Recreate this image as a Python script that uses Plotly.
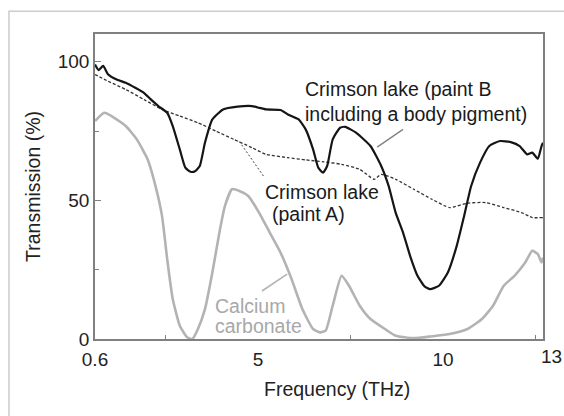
import plotly.graph_objects as go

# Crimson lake (paint B including a body pigment)
freq_B = [0.6, 0.7, 0.82, 0.95, 1.2, 1.43, 1.7, 1.92, 2.1, 2.31, 2.55, 2.7, 2.89, 3.04, 3.18, 3.3,
          3.43, 3.57, 3.77, 4.06, 4.45, 4.84, 5.0, 5.22, 5.61, 5.81, 6.1, 6.29, 6.49, 6.63, 6.76,
          6.87, 7.02, 7.22, 7.36, 7.65, 8.04, 8.33, 8.53, 8.72, 8.92, 9.11, 9.31, 9.5, 9.65, 9.89,
          10.13, 10.37, 10.57, 10.76, 11.0, 11.25, 11.54, 11.83, 12.07, 12.27, 12.41, 12.56, 12.66, 12.7]
trans_B = [99, 97, 98.5, 95.5, 93.5, 92.4, 90.5, 88.8, 86.5, 84, 81.6, 76.8, 68.4, 61.8, 60.3, 60.5,
           62.4, 70.8, 79.2, 82.8, 83.8, 84, 83.5, 82.8, 82.6, 81, 79.2, 75.6, 68.4, 61.8, 60,
           62.4, 72, 76.2, 76.5, 74.4, 69.6, 62.4, 55.2, 45.6, 38.4, 30, 22.8, 19, 18, 19.2,
           24, 33.6, 44.4, 55.2, 63.6, 69.6, 71.4, 71, 69.6, 66.6, 67.2, 65, 69.6, 70.8]

# Crimson lake (paint A)
freq_A = [0.6, 0.95, 1.43, 1.92, 2.41, 2.89, 3.38, 3.86, 4.35, 4.84, 5.22, 5.81, 6.29, 6.78, 7.26,
          7.75, 8.14, 8.33, 8.72, 9.21, 9.7, 10.18, 10.66, 11.15, 11.64, 12.12, 12.41, 12.7]
trans_A = [95.4, 93, 90, 86.4, 82.8, 80.4, 78, 75, 72, 69, 66.6, 65.4, 64.6, 63.9, 63,
           61.2, 57.6, 59.4, 57.6, 54, 50.4, 47.4, 49, 49.2, 47.4, 45.6, 43.8, 43.8]

# Calcium carbonate
freq_C = [0.6, 0.85, 1.05, 1.43, 1.73, 2.02, 2.21, 2.41, 2.55, 2.7, 2.89, 3.09, 3.23, 3.38, 3.57,
          3.77, 3.96, 4.11, 4.3, 4.5, 4.74, 5.03, 5.32, 5.61, 5.91, 6.2, 6.49, 6.68, 6.83, 7.02,
          7.26, 7.46, 7.75, 8.04, 8.43, 8.72, 9.21, 9.7, 10.18, 10.66, 11.05, 11.35, 11.64, 11.93,
          12.22, 12.41, 12.56, 12.66, 12.7]
trans_C = [78.6, 81.6, 80.4, 76.8, 72, 64.8, 56.4, 44.4, 28.8, 14.4, 4.8, 0.6, 0, 3.6, 10.8,
           24, 38.4, 48, 54, 53.4, 51.6, 45.6, 38.4, 31.2, 21.6, 10.8, 3.6, 2.4, 3, 12,
           22.8, 19.2, 12, 7.2, 3.6, 1.2, 0.3, 1, 1.8, 3.6, 7.2, 12, 19.2, 22.8,
           27.6, 31.8, 30.6, 27.6, 29.4]

x_ticks = [0.6, 5, 10]
x_minor = [2.5, 7.5, 12.5]
y_ticks = [0, 50, 100]
y_minor = [25, 75]

FONT = "Liberation Sans, Arial, Helvetica, sans-serif"
fig = go.Figure()
fig.add_trace(go.Scatter(x=freq_C, y=trans_C, mode="lines",
                         line=dict(color="#b3b3b3", width=2.6, shape="spline", smoothing=0.5)))
fig.add_trace(go.Scatter(x=freq_A, y=trans_A, mode="lines",
                         line=dict(color="#333333", width=1.3, dash="3px,2px", shape="spline", smoothing=0.5)))
fig.add_trace(go.Scatter(x=freq_B, y=trans_B, mode="lines",
                         line=dict(color="#151515", width=2.2, shape="spline", smoothing=0.5)))

# leader lines
fig.add_shape(type="line", x0=8.22, y0=69.2, x1=8.92, y1=75.6, line=dict(color="#808080", width=1.3))
fig.add_shape(type="line", x0=4.5, y0=71.2, x1=5.18, y1=58.2, line=dict(color="#444444", width=1, dash="2px,2px"))
fig.add_shape(type="line", x0=5.11, y0=17.3, x1=5.79, y1=23.4, line=dict(color="#b3b3b3", width=1.6))

# outer frame
fig.add_shape(type="rect", xref="paper", yref="paper", x0=-0.192, y0=-1, x1=2, y1=1.075,
              line=dict(color="#cccccc", width=1.5), layer="below")

ann_font = dict(family=FONT, size=19.5, color="#1a1a1a")
fig.add_annotation(x=6.22, y=85.6, text="Crimson lake (paint B<br>including a body pigment)",
                   xanchor="left", yanchor="middle", align="left", showarrow=False, font=ann_font)
fig.add_annotation(x=5.14, y=53, text="Crimson lake", xanchor="left", yanchor="middle",
                   showarrow=False, font=ann_font)
fig.add_annotation(x=5.33, y=45, text="(paint A)", xanchor="left", yanchor="middle",
                   showarrow=False, font=ann_font)
gray_font = dict(family=FONT, size=19.5, color="#a8a8a8")
fig.add_annotation(x=3.79, y=11.9, text="Calcium", xanchor="left", yanchor="middle",
                   showarrow=False, font=gray_font)
fig.add_annotation(x=3.79, y=4.7, text="carbonate", xanchor="left", yanchor="middle",
                   showarrow=False, font=gray_font)
# last x tick label, just beyond the axis end
fig.add_annotation(xref="paper", yref="paper", x=1.020, y=-0.0573, text="13",
                   xanchor="center", yanchor="middle", showarrow=False,
                   font=dict(family=FONT, size=19, color="#222222"))
# x axis title
fig.add_annotation(xref="paper", yref="paper", x=0.540, y=-0.165, text="Frequency (THz)",
                   xanchor="center", yanchor="middle", showarrow=False,
                   font=dict(family=FONT, size=19.5, color="#222222"))

fig.update_layout(
    width=564, height=416,
    margin=dict(l=95, r=21, t=34, b=76.5),
    paper_bgcolor="white", plot_bgcolor="white",
    showlegend=False,
    font=dict(family=FONT, size=19, color="#222222"),
    xaxis=dict(range=[0.6, 12.7], tickvals=x_ticks, ticks="", showgrid=False, zeroline=False,
               showline=True, linecolor="#808080", linewidth=1.5, mirror=True,
               ticklabelstandoff=2,
               minor=dict(tickvals=x_minor, ticks="inside", ticklen=4, tickcolor="#808080", showgrid=False)),
    yaxis=dict(range=[0, 110], tickvals=y_ticks, ticks="inside", ticklen=6, tickcolor="#808080",
               showgrid=False, zeroline=False, showline=True, linecolor="#808080", linewidth=1.5,
               mirror=True, ticklabelstandoff=0,
               title=dict(text="Transmission (%)", font=dict(family=FONT, size=19.5, color="#222222"),
                          standoff=12),
               minor=dict(tickvals=y_minor, ticks="inside", ticklen=4, tickcolor="#808080", showgrid=False)),
)

fig.write_html("out.html", config={"displayModeBar": False},
               post_script="document.body.style.margin='0';document.body.style.overflow='hidden';")
